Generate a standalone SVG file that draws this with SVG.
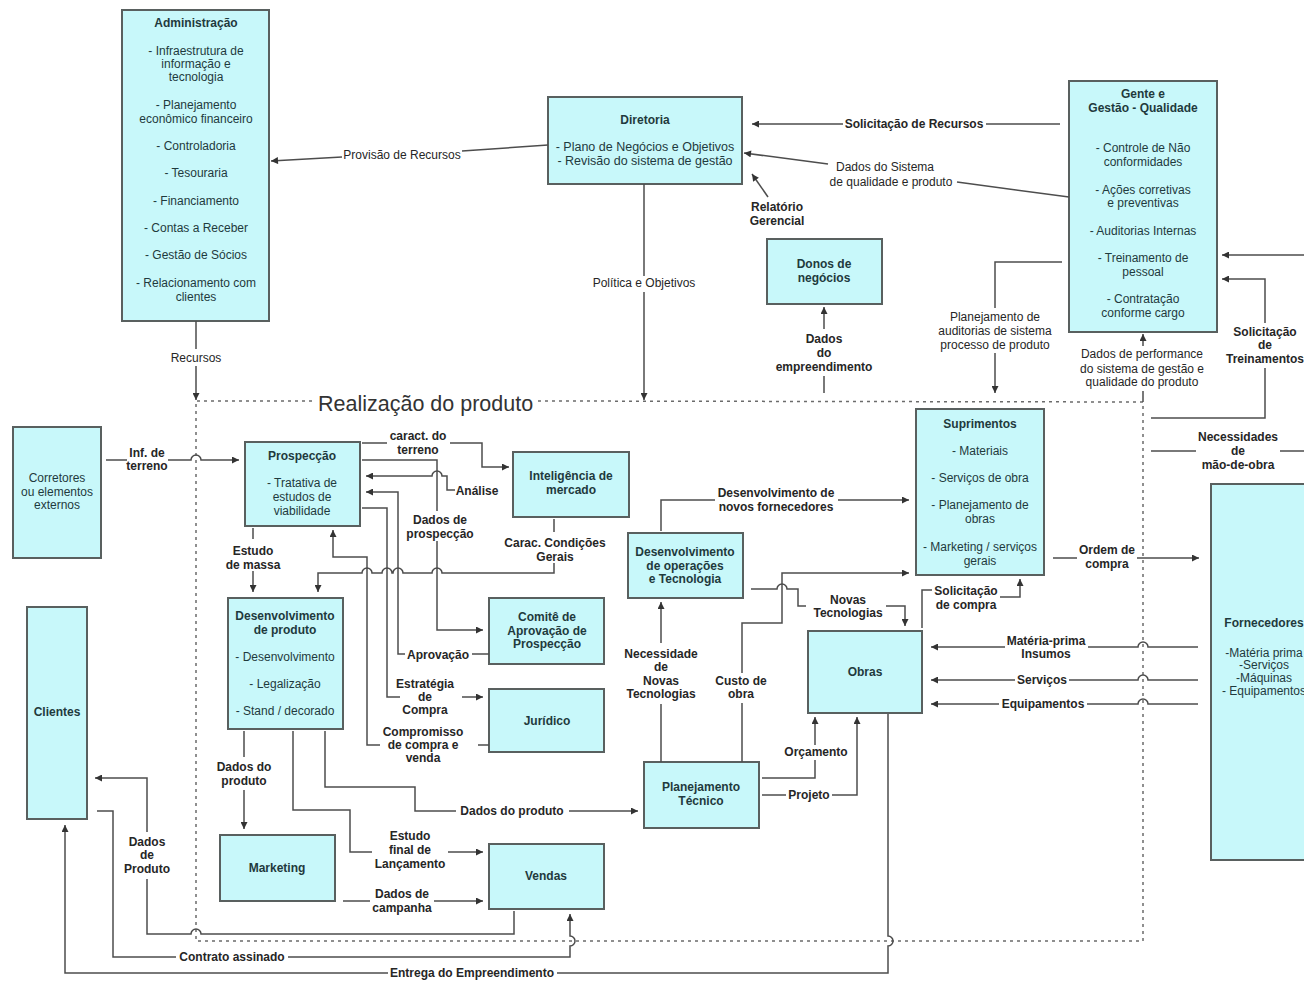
<svg xmlns="http://www.w3.org/2000/svg" width="1304" height="981" viewBox="0 0 1304 981">
<style>
.n rect{fill:#c8f8fa;stroke:#59605f;stroke-width:2}
.n text{font-family:"Liberation Sans",Arial,sans-serif;font-size:12px;fill:#1f3a3d;text-anchor:middle}
.n text.t{font-weight:bold}
.c path{fill:none;stroke:#4d4d4d;stroke-width:1.5}
.c path.ar{marker-end:url(#ah)}
.l text{font-family:"Liberation Sans",Arial,sans-serif;font-size:12px;fill:#262626;text-anchor:middle;font-weight:bold}
.l text.r{font-weight:normal}
.bd{fill:none;stroke:#6b6b6b;stroke-width:1.5;stroke-dasharray:3 4}
.bt{font-family:"Liberation Sans",Arial,sans-serif;font-size:21.5px;fill:#333}
</style>
<defs>
<marker id="ah" markerUnits="userSpaceOnUse" viewBox="0 0 10 10" refX="10" refY="5" markerWidth="8" markerHeight="7" orient="auto"><path d="M0,0L10,5L0,10z" fill="#333"/></marker>
</defs>
<rect width="1304" height="981" fill="#fff"/>

<g id="boundary">
<path class="bd" d="M312,401 L196,401 L196,941 L1143,941 L1143,402 L537,401"/>
<text class="bt" x="318" y="411">Realização do produto</text>
</g>

<g id="administracao" class="n"><rect x="122" y="10" width="147" height="311"/>
<text class="t" x="196" y="27">Administração</text>
<text x="196" y="55">- Infraestrutura de</text>
<text x="196" y="68">informação e</text>
<text x="196" y="81">tecnologia</text>
<text x="196" y="109">- Planejamento</text>
<text x="196" y="123">econômico financeiro</text>
<text x="196" y="150">- Controladoria</text>
<text x="196" y="177">- Tesouraria</text>
<text x="196" y="205">- Financiamento</text>
<text x="196" y="232">- Contas a Receber</text>
<text x="196" y="259">- Gestão de Sócios</text>
<text x="196" y="287">- Relacionamento com</text>
<text x="196" y="301">clientes</text>
</g>

<g id="diretoria" class="n"><rect x="548" y="97" width="194" height="87"/>
<text class="t" x="645" y="124">Diretoria</text>
<text x="645" y="151" style="font-size:12.5px">- Plano de Negócios e Objetivos</text>
<text x="645" y="165" style="font-size:12.5px">- Revisão do sistema de gestão</text>
</g>

<g id="gente-gestao-qualidade" class="n"><rect x="1069" y="81" width="148" height="251"/>
<text class="t" x="1143" y="98">Gente e</text>
<text class="t" x="1143" y="112">Gestão - Qualidade</text>
<text x="1143" y="152">- Controle de Não</text>
<text x="1143" y="166">conformidades</text>
<text x="1143" y="194">- Ações corretivas</text>
<text x="1143" y="207">e preventivas</text>
<text x="1143" y="235">- Auditorias Internas</text>
<text x="1143" y="262">- Treinamento de</text>
<text x="1143" y="276">pessoal</text>
<text x="1143" y="303">- Contratação</text>
<text x="1143" y="317">conforme cargo</text>
</g>

<g id="donos-de-negocios" class="n"><rect x="767" y="239" width="115" height="65"/>
<text class="t" x="824" y="268">Donos de</text>
<text class="t" x="824" y="282">negócios</text>
</g>

<g id="corretores" class="n"><rect x="13" y="427" width="88" height="131"/>
<text x="57" y="482">Corretores</text>
<text x="57" y="496">ou elementos</text>
<text x="57" y="509">externos</text>
</g>

<g id="clientes" class="n"><rect x="27" y="607" width="60" height="212"/>
<text class="t" x="57" y="716">Clientes</text>
</g>

<g id="prospeccao" class="n"><rect x="245" y="442" width="115" height="84"/>
<text class="t" x="302" y="460">Prospecção</text>
<text x="302" y="487">- Tratativa de</text>
<text x="302" y="501">estudos de</text>
<text x="302" y="515">viabilidade</text>
</g>

<g id="inteligencia-de-mercado" class="n"><rect x="513" y="452" width="116" height="65"/>
<text class="t" x="571" y="480">Inteligência de</text>
<text class="t" x="571" y="494">mercado</text>
</g>

<g id="desenvolvimento-de-produto" class="n"><rect x="228" y="598" width="115" height="131"/>
<text class="t" x="285" y="620">Desenvolvimento</text>
<text class="t" x="285" y="634">de produto</text>
<text x="285" y="661">- Desenvolvimento</text>
<text x="285" y="688">- Legalização</text>
<text x="285" y="715">- Stand / decorado</text>
</g>

<g id="comite" class="n"><rect x="489" y="598" width="115" height="66"/>
<text class="t" x="547" y="621">Comitê de</text>
<text class="t" x="547" y="635">Aprovação de</text>
<text class="t" x="547" y="648">Prospecção</text>
</g>

<g id="juridico" class="n"><rect x="489" y="689" width="115" height="63"/>
<text class="t" x="547" y="725">Jurídico</text>
</g>

<g id="desenvolvimento-operacoes" class="n"><rect x="628" y="533" width="115" height="65"/>
<text class="t" x="685" y="556">Desenvolvimento</text>
<text class="t" x="685" y="570">de operações</text>
<text class="t" x="685" y="583">e Tecnologia</text>
</g>

<g id="suprimentos" class="n"><rect x="916" y="409" width="128" height="166"/>
<text class="t" x="980" y="428">Suprimentos</text>
<text x="980" y="455">- Materiais</text>
<text x="980" y="482">- Serviços de obra</text>
<text x="980" y="509">- Planejamento de</text>
<text x="980" y="523">obras</text>
<text x="980" y="551">- Marketing / serviços</text>
<text x="980" y="565">gerais</text>
</g>

<g id="obras" class="n"><rect x="808" y="631" width="114" height="82"/>
<text class="t" x="865" y="676">Obras</text>
</g>

<g id="fornecedores" class="n"><rect x="1211" y="484" width="100" height="376"/>
<text class="t" x="1264" y="627">Fornecedores</text>
<text x="1264" y="657">-Matéria prima</text>
<text x="1264" y="669">-Serviços</text>
<text x="1264" y="682">-Máquinas</text>
<text x="1264" y="695">- Equipamentos</text>
</g>

<g id="marketing" class="n"><rect x="220" y="835" width="115" height="66"/>
<text class="t" x="277" y="872">Marketing</text>
</g>

<g id="vendas" class="n"><rect x="489" y="844" width="115" height="65"/>
<text class="t" x="546" y="880">Vendas</text>
</g>

<g id="planejamento-tecnico" class="n"><rect x="644" y="762" width="115" height="66"/>
<text class="t" x="701" y="791">Planejamento</text>
<text class="t" x="701" y="805">Técnico</text>
</g>

<g id="connectors" class="c">
<path d="M548,145 L462,151"/>
<path class="ar" d="M342,157 L271,161"/>
<path d="M1060,124 L986,124"/>
<path class="ar" d="M843,124 L752,124"/>
<path d="M1069,197 L957,182"/>
<path class="ar" d="M828,164 L744,153"/>
<path class="ar" d="M768,197 L752,174"/>
<path d="M644,184 L644,276"/>
<path class="ar" d="M644,292 L644,400"/>
<path d="M824,393 L824,376"/>
<path class="ar" d="M824,329 L824,307"/>
<path d="M196,321 L196,349"/>
<path class="ar" d="M196,366 L196,400"/>
<path d="M1062,262 L995,262 L995,308"/>
<path class="ar" d="M995,353 L995,393"/>
<path d="M1143,402 L1143,391"/>
<path class="ar" d="M1143,346 L1143,334"/>
<path d="M1151,418 L1265,418 L1265,368"/>
<path class="ar" d="M1265,323 L1265,279 L1222,279"/>
<path class="ar" d="M1304,255 L1222,255"/>
<path d="M1151,451 L1196,451"/>
<path d="M1280,451 L1304,451"/>
<path d="M106,460 L127,460"/>
<path class="ar" d="M168,460 L191,460 A5,5 0 0 1 201,460 L239,460"/>
<path d="M362,443 L387,443"/>
<path class="ar" d="M450,443 L482,443 L482,467 L509,467"/>
<path d="M362,460 L437,460 L437,511"/>
<path class="ar" d="M437,541 L437,630 L483,630"/>
<path class="ar" d="M455,490 L447,490 L447,476 L442,476 A5,5 0 0 0 432,476 L366,476"/>
<path d="M489,654 L472,654"/>
<path class="ar" d="M405,654 L398,654 L398,492 L366,492"/>
<path d="M362,508 L387,508 L387,697 L400,697"/>
<path class="ar" d="M462,697 L483,697"/>
<path d="M489,745 L478,745"/>
<path class="ar" d="M380,745 L367,745 L367,557 L333,557 L333,530"/>
<path d="M554,519 L554,532"/>
<path class="ar" d="M554,563 L554,573 L442,573 A5,5 0 0 0 432,573 L403,573 A5,5 0 0 0 393,573 L392,573 A5,5 0 0 0 382,573 L372,573 A5,5 0 0 0 362,573 L318,573 L318,592"/>
<path d="M253,528 L253,539"/>
<path class="ar" d="M253,571 L253,592"/>
<path d="M244,731 L244,757"/>
<path class="ar" d="M244,790 L244,829"/>
<path d="M293,731 L293,810 L350,810 L350,852 L372,852"/>
<path class="ar" d="M448,852 L483,852"/>
<path d="M343,901 L370,901"/>
<path class="ar" d="M434,901 L483,901"/>
<path d="M325,731 L325,787 L415,787 L415,811 L456,811"/>
<path class="ar" d="M569,811 L638,811"/>
<path d="M514,911 L514,934 L201,934 A5,5 0 0 0 191,934 L147,934 L147,879"/>
<path class="ar" d="M147,832 L147,778 L95,778"/>
<path d="M97,811 L113,811 L113,957 L176,957"/>
<path class="ar" d="M288,957 L570,957 L570,946 A5,5 0 0 0 570,936 L570,914"/>
<path d="M888,714 L888,936 A5,5 0 0 1 888,946 L888,973 L557,973"/>
<path class="ar" d="M388,973 L65,973 L65,825"/>
<path d="M762,778 L815,778 L815,760"/>
<path class="ar" d="M815,745 L815,717"/>
<path d="M762,795 L786,795"/>
<path class="ar" d="M832,795 L857,795 L857,717"/>
<path d="M742,762 L742,703"/>
<path class="ar" d="M742,673 L742,623 L782,623 L782,573 L909,573"/>
<path d="M751,589 L777,589 A5,5 0 0 1 787,589 L798,589 L798,606 L806,606"/>
<path class="ar" d="M886,606 L905,606 L905,626"/>
<path d="M922,628 L922,590 L932,590"/>
<path class="ar" d="M1000,597 L1020,597 L1020,579"/>
<path d="M661,762 L661,704"/>
<path class="ar" d="M661,643 L661,602"/>
<path d="M661,531 L661,500 L715,500"/>
<path class="ar" d="M838,500 L909,500"/>
<path d="M1053,558 L1077,558"/>
<path class="ar" d="M1137,558 L1199,558"/>
<path d="M1198,647 L1148,647 A5,5 0 0 0 1138,647 L1088,647"/>
<path class="ar" d="M1005,647 L931,647"/>
<path d="M1198,680 L1148,680 A5,5 0 0 0 1138,680 L1069,680"/>
<path class="ar" d="M1015,680 L931,680"/>
<path d="M1198,704 L1148,704 A5,5 0 0 0 1138,704 L1087,704"/>
<path class="ar" d="M999,704 L931,704"/>

<g id="labels" class="l">
<text class="r" x="402" y="159">Provisão de Recursos</text>
<text x="914" y="128">Solicitação de Recursos</text>
<text class="r" x="885" y="171">Dados do Sistema</text>
<text class="r" x="891" y="186">de qualidade e produto</text>
<text x="777" y="211">Relatório</text>
<text x="777" y="225">Gerencial</text>
<text class="r" x="644" y="287">Política e Objetivos</text>
<text x="824" y="343">Dados</text>
<text x="824" y="357">do</text>
<text x="824" y="371">empreendimento</text>
<text class="r" x="196" y="362">Recursos</text>
<text class="r" x="995" y="321">Planejamento de</text>
<text class="r" x="995" y="335">auditorias de sistema</text>
<text class="r" x="995" y="349">processo de produto</text>
<text class="r" x="1142" y="358">Dados de performance</text>
<text class="r" x="1142" y="373">do sistema de gestão e</text>
<text class="r" x="1142" y="386">qualidade do produto</text>
<text x="1265" y="336">Solicitação</text>
<text x="1265" y="349">de</text>
<text x="1265" y="363">Treinamentos</text>
<text x="1238" y="441">Necessidades</text>
<text x="1238" y="455">de</text>
<text x="1238" y="469">mão-de-obra</text>
<text x="147" y="457">Inf. de</text>
<text x="147" y="470">terreno</text>
<text x="418" y="440">caract. do</text>
<text x="418" y="454">terreno</text>
<text x="440" y="524">Dados de</text>
<text x="440" y="538">prospecção</text>
<text x="477" y="495">Análise</text>
<text x="555" y="547">Carac. Condições</text>
<text x="555" y="561">Gerais</text>
<text x="253" y="555">Estudo</text>
<text x="253" y="569">de massa</text>
<text x="438" y="659">Aprovação</text>
<text x="425" y="688">Estratégia</text>
<text x="425" y="701">de</text>
<text x="425" y="714">Compra</text>
<text x="423" y="736">Compromisso</text>
<text x="423" y="749">de compra e</text>
<text x="423" y="762">venda</text>
<text x="661" y="658">Necessidade</text>
<text x="661" y="671">de</text>
<text x="661" y="685">Novas</text>
<text x="661" y="698">Tecnologias</text>
<text x="741" y="685">Custo de</text>
<text x="741" y="698">obra</text>
<text x="776" y="497">Desenvolvimento de</text>
<text x="776" y="511">novos fornecedores</text>
<text x="848" y="604">Novas</text>
<text x="848" y="617">Tecnologias</text>
<text x="966" y="595">Solicitação</text>
<text x="966" y="609">de compra</text>
<text x="1107" y="554">Ordem de</text>
<text x="1107" y="568">compra</text>
<text x="1046" y="645">Matéria-prima</text>
<text x="1046" y="658">Insumos</text>
<text x="1042" y="684">Serviços</text>
<text x="1043" y="708">Equipamentos</text>
<text x="816" y="756">Orçamento</text>
<text x="809" y="799">Projeto</text>
<text x="244" y="771">Dados do</text>
<text x="244" y="785">produto</text>
<text x="410" y="840">Estudo</text>
<text x="410" y="854">final de</text>
<text x="410" y="868">Lançamento</text>
<text x="402" y="898">Dados de</text>
<text x="402" y="912">campanha</text>
<text x="512" y="815">Dados do produto</text>
<text x="147" y="846">Dados</text>
<text x="147" y="859">de</text>
<text x="147" y="873">Produto</text>
<text x="232" y="961">Contrato assinado</text>
<text x="472" y="977">Entrega do Empreendimento</text>
</g>
</g>
</svg>
